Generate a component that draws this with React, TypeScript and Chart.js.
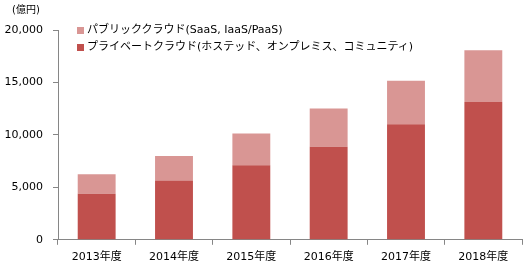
import React, { useEffect, useRef } from "react";
import { Chart, registerables } from "chart.js";

Chart.register(...registerables);

const categories = ["2013年度", "2014年度", "2015年度", "2016年度", "2017年度", "2018年度"];
const privateCloud = [4400, 5650, 7100, 8860, 11020, 13130];
const publicCloud = [1850, 2350, 3030, 3660, 4150, 4940];
const seriesNames = ["パブリッククラウド(SaaS, IaaS/PaaS)", "プライベートクラウド(ホステッド、オンプレミス、コミュニティ)"];
const unitLabel = "(億円)";
const yMax = 20000;
const yStep = 5000;

const FONT = "'DejaVu Sans', 'Noto Sans CJK JP', sans-serif";
const PRIVATE_COLOR = "#C0504D";
const PUBLIC_COLOR = "#D99694";
const AXIS_COLOR = "#868686";

export default function App() {
  const ref = useRef<HTMLCanvasElement | null>(null);

  useEffect(() => {
    document.body.style.margin = "0";
    const canvas = ref.current;
    if (!canvas) return;
    const chart = new Chart(canvas, {
      type: "bar",
      data: {
        labels: categories,
        datasets: [
          {
            label: seriesNames[1],
            data: privateCloud,
            backgroundColor: PRIVATE_COLOR,
            barPercentage: 0.49,
            categoryPercentage: 1,
          },
          {
            label: seriesNames[0],
            data: publicCloud,
            backgroundColor: PUBLIC_COLOR,
            barPercentage: 0.49,
            categoryPercentage: 1,
          },
        ],
      },
      options: {
        animation: false,
        responsive: false,
        maintainAspectRatio: false,
        layout: { padding: { top: 30, right: 6, bottom: 3, left: 0 } },
        plugins: { legend: { display: false }, tooltip: { enabled: false } },
        scales: {
          x: {
            stacked: true,
            offset: true,
            grid: {
              offset: true,
              drawOnChartArea: false,
              drawTicks: true,
              tickLength: 5,
              color: AXIS_COLOR,
            },
            border: { display: true, color: AXIS_COLOR },
            ticks: { color: "#000", font: { family: FONT, size: 11 }, padding: 6 },
          },
          y: {
            stacked: true,
            min: 0,
            max: yMax,
            afterFit: (scale: any) => {
              scale.width = 58;
            },
            grid: {
              drawOnChartArea: false,
              drawTicks: true,
              tickLength: 5,
              color: AXIS_COLOR,
            },
            border: { display: true, color: AXIS_COLOR },
            ticks: {
              stepSize: yStep,
              color: "#000",
              font: { family: FONT, size: 11 },
              padding: 10,
              callback: (v: any) => Number(v).toLocaleString("en-US"),
            },
          },
        },
      },
    });
    return () => chart.destroy();
  }, []);

  const legendItem = (color: string, text: string, top: number) => (
    <div
      style={{
        position: "absolute",
        left: 77,
        top,
        display: "flex",
        alignItems: "center",
        fontFamily: FONT,
        fontSize: 11,
        color: "#000",
        whiteSpace: "nowrap",
        lineHeight: "14px",
      }}
    >
      <span style={{ display: "inline-block", width: 7, height: 7, background: color, marginRight: 3 }} />
      <span>{text}</span>
    </div>
  );

  return (
    <div style={{ position: "relative", width: 528, height: 273, background: "#fff" }}>
      <canvas ref={ref} width={528} height={273} style={{ display: "block" }} />
      <div
        style={{
          position: "absolute",
          left: 12,
          top: 3,
          fontFamily: FONT,
          fontSize: 10,
          color: "#000",
          lineHeight: "14px",
        }}
      >
        {unitLabel}
      </div>
      {legendItem(PUBLIC_COLOR, seriesNames[0], 23)}
      {legendItem(PRIVATE_COLOR, seriesNames[1], 40)}
    </div>
  );
}
